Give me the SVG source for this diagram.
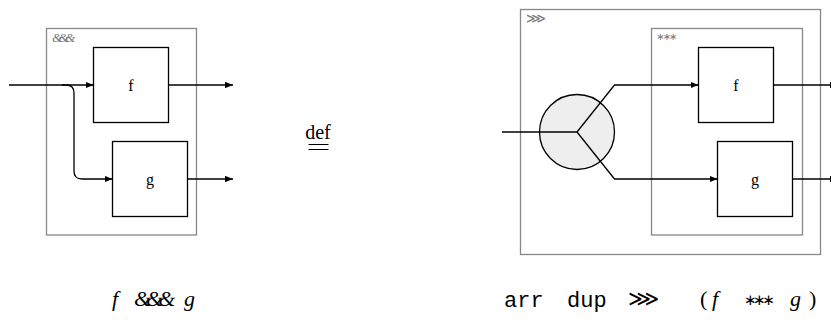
<svg xmlns="http://www.w3.org/2000/svg" width="831" height="324" viewBox="0 0 831 324">
<style>
.frame{fill:none;stroke:#888;stroke-width:1.3}
.box{fill:#fff;stroke:#000;stroke-width:1.3}
.wire{fill:none;stroke:#000;stroke-width:1.3}
.lbl{font-family:"Liberation Serif",serif;font-size:16px;fill:#000;text-anchor:middle}
.tag{font-family:"Liberation Serif","DejaVu Serif",serif;font-size:13px;fill:#777}
.math{font-family:"Liberation Serif","DejaVu Serif",serif;font-size:22px;font-style:italic;fill:#000}
.mono{font-family:"Liberation Mono",monospace;font-size:22px;fill:#000}
</style>
<defs>
<marker id="ah" viewBox="0 0 10 8" refX="10" refY="4" markerWidth="8" markerHeight="6.4" markerUnits="userSpaceOnUse" orient="auto">
<path d="M0,0 L10,4 L0,8 z" fill="#000"/>
</marker>
</defs>
<g id="left-frame"><rect class="frame" x="46.5" y="28.5" width="150" height="206.5"/><text class="tag" x="52" y="42" font-style="italic" letter-spacing="-3.5">&amp;&amp;&amp;</text></g>
<g id="left-f"><rect class="box" x="93.5" y="47.5" width="75" height="75"/><text class="lbl" x="131" y="91">f</text></g>
<g id="left-g"><rect class="box" x="112.5" y="141.5" width="75" height="75"/><text class="lbl" x="150" y="185">g</text></g>
<g id="right-frame"><rect class="frame" x="520.5" y="9.5" width="300" height="245"/><text x="526" y="23" font-family="DejaVu Sans,sans-serif" font-size="14" fill="#777">⋙</text></g>
<g id="right-inner"><rect class="frame" x="651.5" y="28.5" width="151" height="206.5"/><text x="656" y="40" font-family="DejaVu Sans,sans-serif" font-size="10" fill="#777" letter-spacing="-2">∗∗∗</text></g>
<g id="dup"><circle cx="577" cy="132" r="37.5" fill="#eee" stroke="#000" stroke-width="1.3"/></g>
<g id="right-f"><rect class="box" x="698.5" y="47.5" width="75" height="75"/><text class="lbl" x="736" y="91">f</text></g>
<g id="right-g"><rect class="box" x="717.5" y="141.5" width="75" height="75"/><text class="lbl" x="755" y="185">g</text></g>
<g id="connectors">
<path class="wire" d="M9,85 H93.5" marker-end="url(#ah)"/>
<path class="wire" d="M62,85 H66 Q74,85 74,93 V171 Q74,179 82,179 H112.5" marker-end="url(#ah)"/>
<path class="wire" d="M168.5,85 H233" marker-end="url(#ah)"/>
<path class="wire" d="M187.5,179 H233" marker-end="url(#ah)"/>
<path class="wire" d="M502,132 H577"/>
<path class="wire" d="M577,132 L614.5,85 H698.5" marker-end="url(#ah)"/>
<path class="wire" d="M577,132 L614.5,179 H717.5" marker-end="url(#ah)"/>
<path class="wire" d="M773.5,85 H838" marker-end="url(#ah)"/>
<path class="wire" d="M792.5,179 H838" marker-end="url(#ah)"/>
</g>
<g id="def">
<text x="318" y="139" font-family="Liberation Serif,serif" font-size="20" text-anchor="middle">def</text>
<path d="M308.5,144.5 H328.5 M308.5,149.5 H328.5" stroke="#000" stroke-width="1.2"/>
</g>
<g id="formula-left">
<text class="math" x="112" y="306">f</text>
<text class="math" x="134" y="306" letter-spacing="-5">&amp;&amp;&amp;</text>
<text class="math" x="184" y="306">g</text>
</g>
<g id="formula-right">
<text class="mono" x="504" y="307">arr</text>
<text class="mono" x="567" y="307">dup</text>
<text x="628" y="306" font-family="DejaVu Sans,sans-serif" font-size="22">⋙</text>
<text x="700" y="306" font-family="Liberation Serif,serif" font-size="22">(</text>
<text class="math" x="712" y="306">f</text>
<text x="744" y="305" font-family="DejaVu Sans,sans-serif" font-size="15" letter-spacing="-3.5">∗∗∗</text>
<text class="math" x="790" y="306">g</text>
<text x="809" y="306" font-family="Liberation Serif,serif" font-size="22">)</text>
</g>
</svg>
